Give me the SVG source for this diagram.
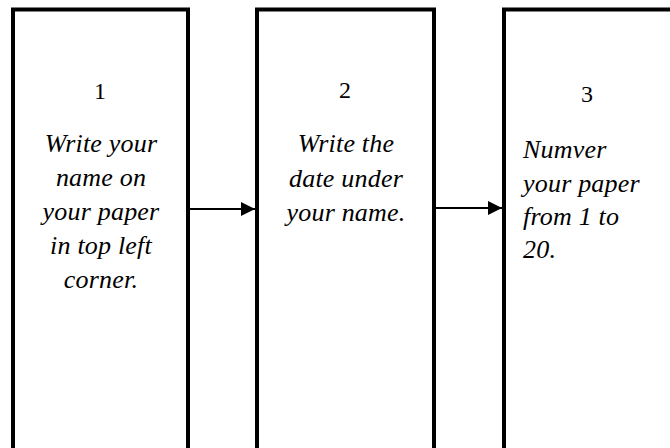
<svg xmlns="http://www.w3.org/2000/svg" width="670" height="448" viewBox="0 0 670 448">
<style>
.box{fill:#fff;stroke:#000;stroke-width:4}
text{font-family:'Liberation Serif','Times New Roman',Times,serif;font-size:24px;fill:#000}
.num{text-anchor:middle}
.t{font-style:italic;font-size:26px;letter-spacing:0.2px}
.c{text-anchor:middle}
.conn{stroke:#000;stroke-width:2;fill:none}
</style>
<defs>
<marker id="ah" markerWidth="14" markerHeight="14" refX="14" refY="7" orient="auto" markerUnits="userSpaceOnUse">
<path d="M0,0 L14,7 L0,14 Z" fill="#000"/>
</marker>
</defs>
<rect width="670" height="448" fill="#fff"/>
<g id="node1">
<rect class="box" x="13" y="9.5" width="175" height="450"/>
<text class="num" x="100" y="99">1</text>
<text class="t c" x="101" y="152">Write your</text>
<text class="t c" x="101" y="186">name on</text>
<text class="t c" x="101" y="220">your paper</text>
<text class="t c" x="101" y="254">in top left</text>
<text class="t c" x="101" y="288">corner.</text>
</g>
<g id="node2">
<rect class="box" x="257" y="9.5" width="177" height="450"/>
<text class="num" x="345" y="98">2</text>
<text class="t c" x="346" y="152">Write the</text>
<text class="t c" x="346" y="187">date under</text>
<text class="t c" x="346" y="221">your name.</text>
</g>
<g id="node3">
<rect class="box" x="504" y="9.5" width="180" height="450"/>
<text class="num" x="587" y="102">3</text>
<text class="t" x="523" y="158">Numver</text>
<text class="t" x="523" y="192">your paper</text>
<text class="t" x="523" y="225">from 1 to</text>
<text class="t" x="523" y="258">20.</text>
</g>
<g id="connectors">
<line class="conn" x1="190" y1="209" x2="255" y2="209" marker-end="url(#ah)"/>
<line class="conn" x1="436" y1="208" x2="502" y2="208" marker-end="url(#ah)"/>
</g>
</svg>
